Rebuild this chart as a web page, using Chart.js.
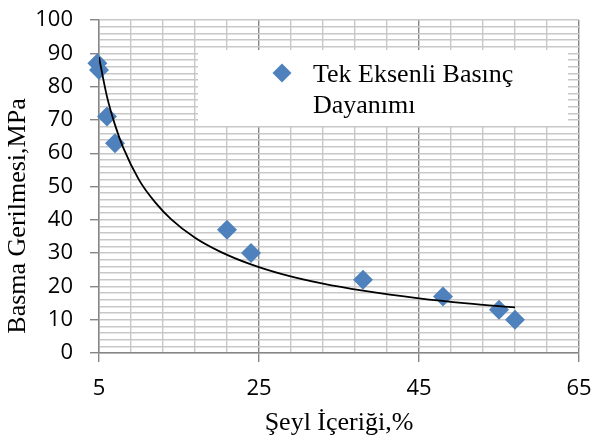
<!DOCTYPE html>
<html>
<head>
<meta charset="utf-8">
<script src="https://cdn.jsdelivr.net/npm/chart.js@4.4.0/dist/chart.umd.min.js"></script>
<style>
  body { margin: 0; background: #fff; }
</style>
</head>
<body>
<canvas id="myChart1" width="593" height="441"></canvas>
<script>
// okunan degerler
var seylX = [4.8, 5, 6, 7, 21, 24, 38, 48, 55, 57];
var basmaY = [87, 85, 71, 63, 37, 30, 22, 17, 13, 10];
// egilim cizgisi (resimden okunan noktalar)
var trendX = [5, 6, 7, 8, 10, 12, 14, 17, 20, 24, 28, 33, 38, 45, 51, 57];
var trendY = [88.8, 77.0, 68.5, 61.8, 52.0, 45.3, 40.2, 34.6, 30.6, 26.6, 23.6, 20.8, 18.7, 16.4, 14.9, 13.7];
var xMajor = [5, 25, 45, 65];
var yLabels = [0, 10, 20, 30, 40, 50, 60, 70, 80, 90, 100];
var seriesName = ["Tek Eksenli Basınç", "Dayanımı"];
var xTitle = "Şeyl İçeriği,%";
var yTitle = "Basma Gerilmesi,MPa";

var serif = "'Liberation Serif', 'Times New Roman', serif";

var extras = {
  id: "extras",
  beforeDatasetsDraw: function (chart) {
    var c = chart.ctx;
    c.save();
    c.fillStyle = "#fff";
    c.fillRect(198, 50, 370, 76);
    c.fillStyle = "#4f81bd";
    c.beginPath();
    c.moveTo(282, 63.5); c.lineTo(291.5, 73); c.lineTo(282, 82.5); c.lineTo(272.5, 73);
    c.closePath();
    c.fill();
    c.fillStyle = "#000";
    c.font = "26px " + serif;
    c.textBaseline = "alphabetic";
    c.fillText(seriesName[0], 313, 82);
    c.fillText(seriesName[1], 313, 113);
    c.restore();
  },
  afterDraw: function (chart) {
    var c = chart.ctx;
    c.save();
    c.fillStyle = "#000";
    c.font = "26px " + serif;
    c.textAlign = "center";
    c.textBaseline = "middle";
    c.fillText(xTitle, 339, 423);
    c.translate(18, 216);
    c.rotate(-Math.PI / 2);
    c.fillText(yTitle, 0, 0);
    c.restore();
  }
};

var ctx = document.getElementById("myChart1").getContext("2d");
var chart = new Chart(ctx, {
  type: "scatter",
  data: {
    datasets: [
      {
        label: "trend",
        type: "line",
        data: trendX.map(function (x, i) { return { x: x, y: trendY[i] }; }),
        borderColor: "#000",
        borderWidth: 1.8,
        pointRadius: 0,
        fill: false,
        cubicInterpolationMode: "monotone",
        order: 0
      },
      {
        label: seriesName.join(" "),
        data: seylX.map(function (x, i) { return { x: x, y: basmaY[i] }; }),
        pointStyle: "rectRot",
        pointRadius: 10,
        pointHoverRadius: 10,
        backgroundColor: "#4f81bd",
        borderColor: "#4f81bd",
        borderWidth: 0,
        clip: false,
        order: 1
      }
    ]
  },
  options: {
    responsive: false,
    animation: false,
    layout: { padding: { left: 0, right: 14, top: 20, bottom: 0 } },
    plugins: {
      legend: { display: false },
      tooltip: { enabled: false }
    },
    scales: {
      x: {
        type: "linear",
        min: 5,
        max: 65,
        afterBuildTicks: function (s) {
          var t = [];
          for (var v = 5; v <= 65; v += 4) t.push({ value: v });
          s.ticks = t;
        },
        afterFit: function (s) {
          s.height = 88;
          s.paddingLeft = 0;
          s.paddingRight = 0;
        },
        ticks: {
          autoSkip: false,
          maxRotation: 0,
          padding: 14,
          color: "#000",
          font: { family: "'Open Sans'", size: 22 },
          callback: function (v) { return xMajor.indexOf(v) >= 0 ? String(v) : ""; }
        },
        grid: {
          color: function (c) { return xMajor.indexOf(c.tick.value) >= 0 ? "#868686" : "#c8c8c8"; },
          tickColor: function (c) { return xMajor.indexOf(c.tick.value) >= 0 ? "#868686" : "rgba(0,0,0,0)"; },
          tickLength: 9,
          lineWidth: 1.4
        },
        border: { color: "#868686", width: 1.4 }
      },
      y: {
        min: 0,
        max: 100,
        afterBuildTicks: function (s) {
          var t = [];
          for (var v = 0; v <= 100; v += 2) t.push({ value: v });
          s.ticks = t;
        },
        afterFit: function (s) {
          s.width = 99;
          s.paddingTop = 0;
          s.paddingBottom = 0;
        },
        ticks: {
          autoSkip: false,
          padding: 17,
          color: "#000",
          font: { family: "'Open Sans'", size: 22 },
          callback: function (v) { return yLabels.indexOf(v) >= 0 ? String(v) : ""; }
        },
        grid: {
          color: "#c8c8c8",
          tickColor: function (c) { return yLabels.indexOf(c.tick.value) >= 0 ? "#868686" : "rgba(0,0,0,0)"; },
          tickLength: 9,
          lineWidth: 1.4
        },
        border: { color: "#868686", width: 1.4 }
      }
    }
  },
  plugins: [extras]
});
</script>
</body>
</html>
